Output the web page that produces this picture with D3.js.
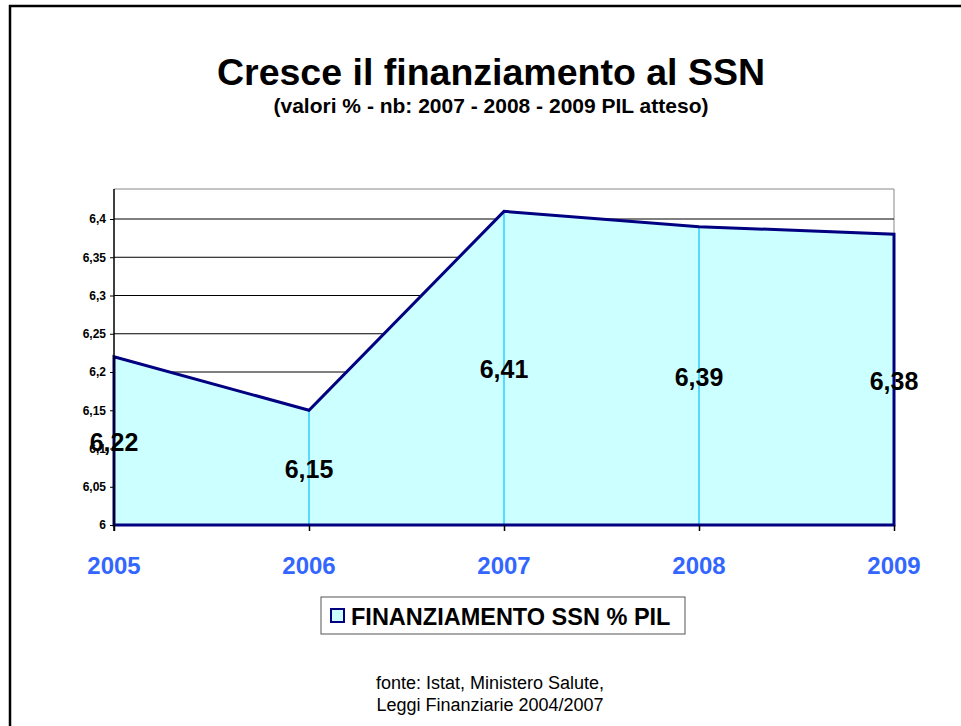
<!DOCTYPE html>
<html>
<head>
<meta charset="utf-8">
<script src="https://cdn.jsdelivr.net/npm/d3@7"></script>
<style>
  body { margin: 0; background: #fff; }
  svg { font-family: Arial, "Liberation Sans", sans-serif; }
</style>
</head>
<body>
<svg id="chart" width="961" height="726"></svg>
<script>
// data
const years = ["2005", "2006", "2007", "2008", "2009"];
const values = [6.22, 6.15, 6.41, 6.39, 6.38];
const yTicks = [6, 6.05, 6.1, 6.15, 6.2, 6.25, 6.3, 6.35, 6.4];
const seriesName = "FINANZIAMENTO SSN % PIL";

const fmt = (v) => String(v).replace(".", ",");

const svg = d3.select("#chart");

// outer frame
svg.append("rect")
  .attr("x", 10).attr("y", 6)
  .attr("width", 1000).attr("height", 800)
  .attr("fill", "none").attr("stroke", "#000").attr("stroke-width", 2.5);

// titles
svg.append("text")
  .attr("x", 491).attr("y", 85)
  .attr("text-anchor", "middle")
  .style("font-size", "37.5px").style("font-weight", "bold")
  .text("Cresce il finanziamento al SSN");
svg.append("text")
  .attr("x", 491).attr("y", 113)
  .attr("text-anchor", "middle")
  .style("font-size", "21px").style("font-weight", "bold")
  .text("(valori % - nb: 2007 - 2008 - 2009 PIL atteso)");

const plot = { left: 114, right: 894, top: 189, bottom: 525 };

const x = d3.scalePoint().domain(years).range([plot.left, plot.right]);
const y = d3.scaleLinear().domain([6, 6.4]).range([plot.bottom, 219]);

const g = svg.append("g");

// plot area border (top/right)
g.append("path")
  .attr("d", `M${plot.left},${plot.top}H${plot.right}V${plot.bottom}`)
  .attr("fill", "none").attr("stroke", "#888").attr("stroke-width", 1);

// gridlines
g.selectAll(".grid")
  .data(yTicks.slice(1))
  .enter()
  .append("line")
  .attr("x1", plot.left).attr("x2", plot.right)
  .attr("y1", (d) => y(d)).attr("y2", (d) => y(d))
  .attr("stroke", "#000").attr("stroke-width", 1);

// area
const data = years.map((d, i) => ({ year: d, value: values[i] }));
const area = d3.area()
  .x((d) => x(d.year))
  .y0(y(6))
  .y1((d) => y(d.value));
g.append("path")
  .datum(data)
  .attr("d", area)
  .attr("fill", "#CCFFFF");

// drop lines
g.selectAll(".drop")
  .data(data)
  .enter()
  .append("line")
  .attr("x1", (d) => x(d.year)).attr("x2", (d) => x(d.year))
  .attr("y1", (d) => y(d.value)).attr("y2", y(6))
  .attr("stroke", "#33CCFF").attr("stroke-width", 1.5);

// outline
const line = d3.line()
  .x((d) => x(d.year))
  .y((d) => y(d.value));
g.append("path")
  .attr("d", `M${x(years[0])},${y(6)}L` + line(data).slice(1) + `L${x(years[years.length - 1])},${y(6)}Z`)
  .attr("fill", "none").attr("stroke", "#000080").attr("stroke-width", 3)
  .attr("stroke-linejoin", "miter");

// y axis
const yAxis = d3.axisLeft(y).tickValues(yTicks).tickSize(4).tickPadding(4).tickFormat(fmt);
const yAxisG = g.append("g").attr("transform", `translate(${plot.left},0)`).call(yAxis);
yAxisG.select(".domain").attr("d", `M0,${plot.top}V${plot.bottom + 6}`).attr("stroke", "#000").attr("stroke-width", 1.5);
yAxisG.selectAll("text").style("font-size", "12px").style("font-weight", "bold").attr("fill", "#000")
  .style("font-family", "Arial, 'Liberation Sans', sans-serif");

// x axis ticks
const xAxis = d3.axisBottom(x).tickSize(6).tickFormat("");
const xAxisG = g.append("g").attr("transform", `translate(0,${plot.bottom})`).call(xAxis);
xAxisG.select(".domain").remove();
xAxisG.selectAll("line").attr("stroke", "#000").attr("stroke-width", 1.5);

g.selectAll(".xlab")
  .data(years)
  .enter()
  .append("text")
  .attr("x", (d) => x(d))
  .attr("y", 574)
  .attr("text-anchor", "middle")
  .style("font-size", "24px").style("font-weight", "bold")
  .attr("fill", "#3366FF")
  .text((d) => d);

// value labels (centred in the area)
g.selectAll(".vlab")
  .data(data)
  .enter()
  .append("text")
  .attr("x", (d) => x(d.year))
  .attr("y", (d) => (y(d.value) + y(6)) / 2 + 10)
  .attr("text-anchor", "middle")
  .style("font-size", "25px").style("font-weight", "bold")
  .attr("fill", "#000")
  .text((d) => fmt(d.value));

// legend
const leg = svg.append("g").attr("transform", "translate(321,597)");
leg.append("rect")
  .attr("width", 364).attr("height", 37)
  .attr("fill", "#fff").attr("stroke", "#555").attr("stroke-width", 1);
leg.append("rect")
  .attr("x", 10).attr("y", 12).attr("width", 13).attr("height", 13)
  .attr("fill", "#CCFFFF").attr("stroke", "#000080").attr("stroke-width", 2);
leg.append("text")
  .attr("x", 30).attr("y", 28)
  .style("font-size", "23.5px").style("font-weight", "bold")
  .text(seriesName);

// source
svg.append("text")
  .attr("x", 490).attr("y", 689)
  .attr("text-anchor", "middle")
  .style("font-size", "18px")
  .text("fonte: Istat, Ministero Salute,");
svg.append("text")
  .attr("x", 490).attr("y", 711)
  .attr("text-anchor", "middle")
  .style("font-size", "18px")
  .text("Leggi Finanziarie 2004/2007");
</script>
</body>
</html>
